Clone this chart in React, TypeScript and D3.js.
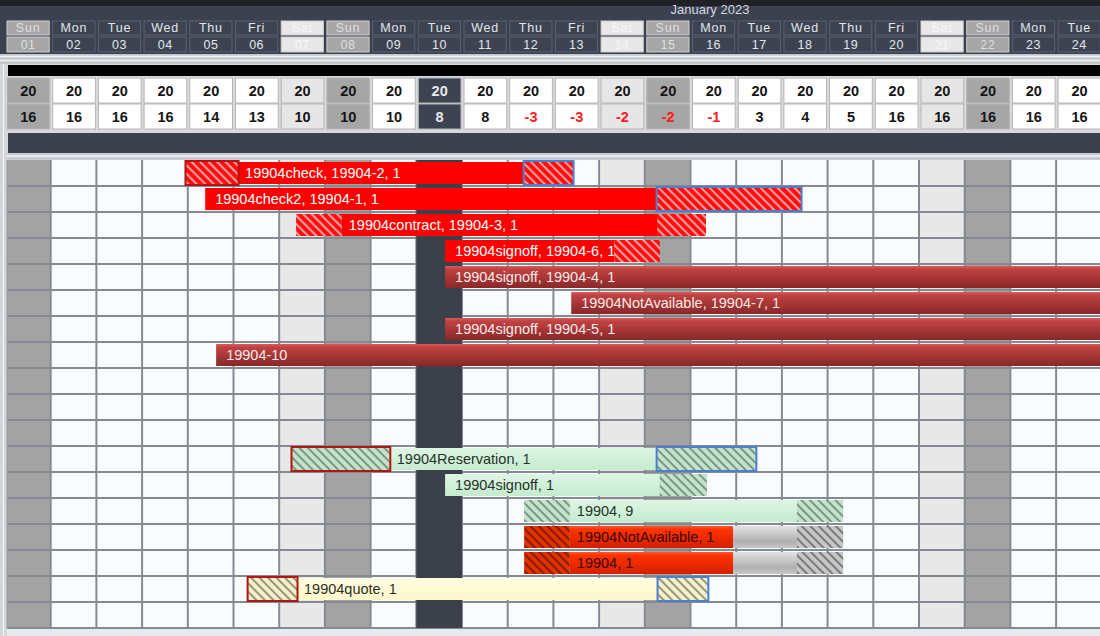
import React from "react";
import * as d3 from "d3";

const dayNames = ["Sun","Mon","Tue","Wed","Thu","Fri","Sat","Sun","Mon","Tue","Wed","Thu","Fri","Sat","Sun","Mon","Tue","Wed","Thu","Fri","Sat","Sun","Mon","Tue"];
const dayNums = ["01","02","03","04","05","06","07","08","09","10","11","12","13","14","15","16","17","18","19","20","21","22","23","24"];
const capacity = [20,20,20,20,20,20,20,20,20,20,20,20,20,20,20,20,20,20,20,20,20,20,20,20];
const available = [16,16,16,16,14,13,10,10,10,8,8,-3,-3,-2,-2,-1,3,4,5,16,16,16,16,16];
const todayIndex = 9;
const monthTitle = "January  2023";

const barRows = [0,1,2,3,4,5,6,7,11,12,13,14,15,16];
const barLabels = [
  "19904check, 19904-2, 1",
  "19904check2, 19904-1, 1",
  "19904contract, 19904-3, 1",
  "19904signoff, 19904-6, 1",
  "19904signoff, 19904-4, 1",
  "19904NotAvailable, 19904-7, 1",
  "19904signoff, 19904-5, 1",
  "19904-10",
  "19904Reservation, 1",
  "19904signoff, 1",
  "19904, 9",
  "19904NotAvailable, 1",
  "19904, 1",
  "19904quote, 1",
];
const barKinds = ["red","red","red","red","darkred","darkred","darkred","darkred","green","green","green","orange","orange","yellow"];
const barStart = [3.96,4.38,6.37,9.63,9.63,12.39,9.63,4.62,6.28,9.63,11.36,11.36,11.36,5.32];
const preEnd   = [5.10,4.38,7.37,9.63,9.63,12.39,9.63,4.62,8.42,9.63,12.36,12.36,12.36,6.39];
const grayFrom = [null,null,null,null,null,null,null,null,null,null,null,15.93,15.93,null];
const postStart= [11.36,14.27,14.27,13.33,24.5,24.5,24.5,24.5,14.27,14.33,17.33,17.33,17.33,14.29];
const barEnd   = [12.43,17.42,15.34,14.33,24.5,24.5,24.5,24.5,16.43,15.36,18.34,18.34,18.34,15.38];
const preBox   = ["red",null,null,null,null,null,null,null,"red",null,null,null,null,"red"];
const postBox  = ["blue","blue",null,null,null,null,null,null,"blue",null,null,null,null,"blue"];

const W = 1100, H = 636;
const FONT = "'Liberation Sans', Arial, Helvetica, sans-serif";
const GRID_TOP = 160, ROW_H = 26, N_ROWS = 18;

const fillKind: Record<string,string> = {
  red: "#ff0000", darkred: "url(#gDarkRed)", green: "url(#gGreen)", orange: "url(#gOrange)", yellow: "url(#gYellow)",
};
const preHatch: Record<string,string> = {
  red: "url(#hRed)", darkred: "url(#hRed)", green: "url(#hGreen)", orange: "url(#hOrange)", yellow: "url(#hYellow)",
};
const postHatch: Record<string,string> = {
  red: "url(#hRed)", darkred: "url(#hRed)", green: "url(#hGreen)", orange: "url(#hGray)", yellow: "url(#hYellow)",
};
const textKind: Record<string,string> = {
  red: "#ffffff", darkred: "#f6eaea", green: "#263328", orange: "#3a0800", yellow: "#2e2e2a",
};

function colType(i: number) {
  if (i === todayIndex) return "today";
  if (dayNames[i] === "Sat") return "sat";
  if (dayNames[i] === "Sun") return "sun";
  return "week";
}

export default function App() {
  const x = d3.scaleLinear().domain([0, 24]).range([5, 5 + 24 * 45.7]);
  const y = (r: number) => GRID_TOP + r * ROW_H;
  const idx = d3.range(24);
  const colW = x(1) - x(0);

  const headFill = (t: string) => (t === "sat" ? "#e8e8e8" : t === "sun" ? "#a6a6a6" : "#3d4351");
  const headText = (t: string) => (t === "sat" ? "#f6f6f6" : t === "sun" ? "#dedede" : "#e2e6ec");
  const numFill = (t: string) => (t === "sat" ? "#e6e6e6" : t === "sun" ? "#a6a6a6" : t === "today" ? "#3d4351" : "#ffffff");
  const gridFill = (t: string) => (t === "sat" ? "#e8e8e8" : t === "sun" ? "#a3a3a3" : t === "today" ? "#3b404b" : "#f8fcfc");

  const hatch = (id: string, bg: string, line: string, lw: number) => (
    <pattern id={id} patternUnits="userSpaceOnUse" width={6} height={6} patternTransform="rotate(45)">
      <rect width={6} height={6} fill={bg} />
      <line x1={0} y1={3} x2={6} y2={3} stroke={line} strokeWidth={lw} />
    </pattern>
  );

  return (
    <svg width={W} height={H} style={{ position: "absolute", left: 0, top: 0, display: "block" }} fontFamily={FONT}>
      <defs>
        {hatch("hRed", "#ff1010", "#ffffff", 1.2)}
        {hatch("hGreen", "#c2e4ca", "#3c463e", 1)}
        {hatch("hOrange", "#e23000", "#4a0e00", 1.2)}
        {hatch("hGray", "#c6c6c6", "#2e2e2e", 1)}
        {hatch("hYellow", "#f4f0c8", "#3c3c30", 1)}
        <linearGradient id="gDarkRed" x1="0" y1="0" x2="0" y2="1">
          <stop offset="0" stopColor="#dc5a5a" />
          <stop offset="0.15" stopColor="#c04242" />
          <stop offset="0.55" stopColor="#a53535" />
          <stop offset="1" stopColor="#8a2828" />
        </linearGradient>
        <linearGradient id="gOrange" x1="0" y1="0" x2="0" y2="1">
          <stop offset="0" stopColor="#ff5a30" />
          <stop offset="0.15" stopColor="#ff3300" />
          <stop offset="1" stopColor="#d42000" />
        </linearGradient>
        <linearGradient id="gGray" x1="0" y1="0" x2="0" y2="1">
          <stop offset="0" stopColor="#e2e2e2" />
          <stop offset="0.45" stopColor="#c2c2c2" />
          <stop offset="0.7" stopColor="#b0b0b0" />
          <stop offset="1" stopColor="#c6c6c6" />
        </linearGradient>
        <linearGradient id="gGreen" x1="0" y1="0" x2="0" y2="1">
          <stop offset="0" stopColor="#def5e4" />
          <stop offset="1" stopColor="#c4ebcf" />
        </linearGradient>
        <linearGradient id="gYellow" x1="0" y1="0" x2="0" y2="1">
          <stop offset="0" stopColor="#fffde2" />
          <stop offset="1" stopColor="#fdf8c8" />
        </linearGradient>
        <clipPath id="gridClip">
          <rect x={0} y={GRID_TOP} width={W} height={N_ROWS * ROW_H} />
        </clipPath>
      </defs>

      {/* background */}
      <rect x={0} y={0} width={W} height={H} fill="#3c4150" />
      <rect x={0} y={0} width={W} height={6} fill="#202124" />
      <text x={710} y={14} textAnchor="middle" fontSize={13} fill="#d4d8e0">{monthTitle}</text>

      {/* header day cells */}
      {idx.map((i) => {
        const t = colType(i) === "today" ? "week" : colType(i);
        const x0 = x(i) + 2, w = colW - 3.5;
        return (
          <g key={"h" + i}>
            <rect x={x0} y={21} width={w} height={14} fill={headFill(t)} stroke={t === "week" ? "#5b6272" : "#cfcfcf"} strokeWidth={1} />
            <rect x={x0} y={37} width={w} height={15} fill={headFill(t)} stroke={t === "week" ? "#5b6272" : "#cfcfcf"} strokeWidth={1} />
            <text x={x0 + w / 2} y={32} textAnchor="middle" fontSize={12.5} letterSpacing={0.8} fill={headText(t)}>{dayNames[i]}</text>
            <text x={x0 + w / 2} y={49} textAnchor="middle" fontSize={12.5} letterSpacing={0.5} fill={headText(t)}>{dayNums[i]}</text>
          </g>
        );
      })}

      {/* separator band */}
      <rect x={0} y={54} width={W} height={10} fill="#c4c8ce" />
      <line x1={0} x2={W} y1={56.5} y2={56.5} stroke="#f2f4f6" strokeWidth={1.5} />
      <line x1={0} x2={W} y1={60.5} y2={60.5} stroke="#eef0f2" strokeWidth={1.5} />
      <rect x={0} y={64} width={W} height={H - 64} fill="#d6dade" />
      <rect x={8} y={65} width={W - 8} height={11} fill="#000000" />

      {/* capacity / availability cells */}
      {idx.map((i) => {
        const t = colType(i);
        const x0 = x(i) + 2, w = colW - 3;
        const tc = t === "today" ? "#e8eaee" : "#151515";
        return (
          <g key={"n" + i}>
            <rect x={x0} y={78} width={w} height={25} fill={numFill(t)} stroke="#b6b6b6" strokeWidth={1} />
            <rect x={x0} y={104} width={w} height={25} fill={numFill(t)} stroke="#b6b6b6" strokeWidth={1} />
            <text x={x0 + w / 2} y={96} textAnchor="middle" fontSize={14.5} fontWeight="bold" fill={tc}>{capacity[i]}</text>
            <text x={x0 + w / 2} y={122} textAnchor="middle" fontSize={14.5} fontWeight="bold"
              fill={available[i] < 0 ? "#ff1a1a" : tc}>{available[i]}</text>
          </g>
        );
      })}

      {/* dark bar */}
      <rect x={8} y={133} width={W - 8} height={20} fill="#3c4150" />
      <rect x={0} y={153} width={W} height={7} fill="#c8ccd2" />
      <line x1={0} x2={W} y1={156} y2={156} stroke="#f4f6f8" strokeWidth={1.5} />

      {/* grid cells */}
      {idx.map((i) => (
        <rect key={"c" + i} x={x(i)} y={GRID_TOP} width={colW} height={N_ROWS * ROW_H} fill={gridFill(colType(i))} />
      ))}
      {d3.range(1, N_ROWS + 1).map((r) => (
        <line key={"hr" + r} x1={x(0)} x2={W} y1={y(r)} y2={y(r)} stroke="#858a92" strokeWidth={2} />
      ))}
      {d3.range(1, 24).map((i) => (
        <line key={"vl" + i} x1={x(i)} x2={x(i)} y1={GRID_TOP} y2={y(N_ROWS)} stroke="#858a92" strokeWidth={2} />
      ))}
      <rect x={x(todayIndex)} y={GRID_TOP} width={colW} height={N_ROWS * ROW_H} fill="#3b404b" />
      <rect x={0} y={y(N_ROWS) + 1} width={W} height={H - y(N_ROWS) - 1} fill="#e6eaee" />

      {/* left strip */}
      <rect x={0} y={64} width={7} height={H - 64} fill="#d2d6db" />
      <line x1={3.5} x2={3.5} y1={64} y2={H} stroke="#f0f2f4" strokeWidth={1.2} />
      <line x1={7} x2={7} y1={GRID_TOP} y2={y(N_ROWS)} stroke="#9aa0a8" strokeWidth={1} />

      {/* bars */}
      <g clipPath="url(#gridClip)">
        {barRows.map((r, k) => {
          const kind = barKinds[k];
          const top = y(r) + 2, h = 22;
          const s = x(barStart[k]), p = x(preEnd[k]), q = x(postStart[k]), e = x(barEnd[k]);
          const g = grayFrom[k] != null ? x(grayFrom[k] as number) : null;
          const mainEnd = g != null ? g : q;
          const tx = p + (p > s ? 7 : 10);
          return (
            <g key={"b" + k}>
              <rect x={p} y={top} width={Math.max(0, mainEnd - p)} height={h} fill={fillKind[kind]} />
              {g != null && <rect x={g} y={top} width={q - g} height={h} fill="url(#gGray)" />}
              <text x={tx} y={top + h / 2 + 5} fontSize={14.5} fill={textKind[kind]}>{barLabels[k]}</text>
              {p > s && <rect x={s} y={top} width={p - s} height={h} fill={preHatch[kind]} />}
              {e > q && <rect x={q} y={top} width={e - q} height={h} fill={postHatch[kind]} />}
              {preBox[k] && p > s && (
                <rect x={s - 0.5} y={y(r) + 1} width={p - s + 1} height={ROW_H - 2} fill="none" stroke="#b41414" strokeWidth={2} />
              )}
              {postBox[k] && e > q && (
                <rect x={q - 0.5} y={y(r) + 1} width={e - q + 1} height={ROW_H - 2} fill="none" stroke="#4a7fd2" strokeWidth={2} />
              )}
            </g>
          );
        })}
      </g>
    </svg>
  );
}
